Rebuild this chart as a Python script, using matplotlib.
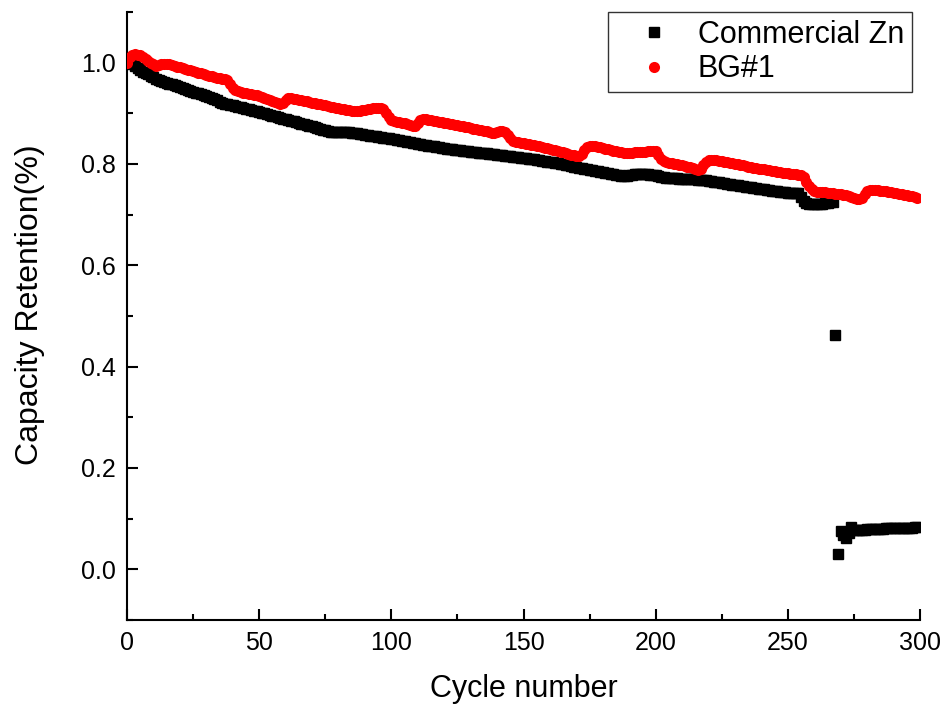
import matplotlib
matplotlib.use("Agg")
import matplotlib.pyplot as plt
from matplotlib.ticker import MultipleLocator

cycles = list(range(0, 300))

bg1 = [
    1.000, 1.012, 1.016, 1.017, 1.016, 1.015, 1.012, 1.008, 1.004, 1.000,
    0.997, 0.994, 0.995, 0.997, 0.998, 0.998, 0.997, 0.995, 0.994, 0.992,
    0.991, 0.989, 0.988, 0.986, 0.985, 0.983, 0.982, 0.980, 0.979, 0.977,
    0.976, 0.974, 0.973, 0.971, 0.970, 0.969, 0.967, 0.968, 0.966, 0.958,
    0.950, 0.946, 0.944, 0.943, 0.941, 0.940, 0.939, 0.938, 0.937, 0.936,
    0.934, 0.932, 0.930, 0.928, 0.926, 0.925, 0.923, 0.921, 0.919, 0.921,
    0.927, 0.930, 0.930, 0.929, 0.928, 0.927, 0.926, 0.925, 0.924, 0.923,
    0.921, 0.920, 0.919, 0.918, 0.917, 0.916, 0.914, 0.913, 0.912, 0.911,
    0.910, 0.909, 0.908, 0.907, 0.906, 0.905, 0.904, 0.904, 0.905, 0.906,
    0.907, 0.908, 0.909, 0.910, 0.910, 0.910, 0.910, 0.908, 0.900, 0.892,
    0.886, 0.884, 0.883, 0.882, 0.881, 0.880, 0.878, 0.877, 0.875, 0.874,
    0.880, 0.887, 0.888, 0.888, 0.887, 0.886, 0.885, 0.884, 0.883, 0.882,
    0.881, 0.880, 0.879, 0.878, 0.877, 0.876, 0.875, 0.874, 0.873, 0.872,
    0.871, 0.870, 0.869, 0.868, 0.867, 0.866, 0.865, 0.863, 0.861, 0.862,
    0.864, 0.866, 0.866, 0.864, 0.858, 0.851, 0.846, 0.844, 0.843, 0.842,
    0.841, 0.840, 0.839, 0.838, 0.838, 0.836, 0.835, 0.834, 0.832, 0.831,
    0.830, 0.828, 0.827, 0.825, 0.824, 0.823, 0.821, 0.820, 0.818, 0.817,
    0.816, 0.815, 0.820, 0.828, 0.834, 0.836, 0.836, 0.835, 0.834, 0.833,
    0.832, 0.830, 0.829, 0.828, 0.826, 0.825, 0.824, 0.823, 0.821, 0.822,
    0.822, 0.822, 0.823, 0.823, 0.823, 0.824, 0.824, 0.825, 0.826, 0.826,
    0.825, 0.818, 0.810, 0.805, 0.803, 0.802, 0.801, 0.800, 0.799, 0.798,
    0.797, 0.796, 0.795, 0.794, 0.792, 0.791, 0.789, 0.790, 0.797, 0.804,
    0.807, 0.808, 0.808, 0.807, 0.806, 0.805, 0.804, 0.803, 0.802, 0.801,
    0.800, 0.799, 0.798, 0.797, 0.796, 0.795, 0.794, 0.793, 0.792, 0.791,
    0.790, 0.790, 0.789, 0.788, 0.787, 0.786, 0.785, 0.784, 0.783, 0.782,
    0.782, 0.781, 0.780, 0.780, 0.779, 0.778, 0.774, 0.765, 0.756, 0.750,
    0.746, 0.745, 0.745, 0.744, 0.744, 0.743, 0.742, 0.742, 0.741, 0.741,
    0.740, 0.739, 0.738, 0.736, 0.735, 0.733, 0.731, 0.730, 0.733, 0.740,
    0.746, 0.748, 0.749, 0.749, 0.748, 0.747, 0.746, 0.746, 0.745, 0.744,
    0.743, 0.742, 0.741, 0.740, 0.739, 0.738, 0.737, 0.736, 0.735, 0.733,
]

commercial = [
    1.000, 1.001, 0.998, 0.993, 0.989, 0.985, 0.982, 0.979, 0.977, 0.974,
    0.971, 0.968, 0.966, 0.964, 0.962, 0.960, 0.958, 0.957, 0.955, 0.953,
    0.951, 0.950, 0.948, 0.946, 0.944, 0.943, 0.941, 0.940, 0.938, 0.936,
    0.934, 0.933, 0.931, 0.929, 0.926, 0.922, 0.920, 0.919, 0.918, 0.917,
    0.916, 0.915, 0.913, 0.912, 0.911, 0.909, 0.908, 0.907, 0.905, 0.904,
    0.902, 0.901, 0.900, 0.898, 0.897, 0.895, 0.894, 0.892, 0.891, 0.889,
    0.888, 0.886, 0.885, 0.884, 0.882, 0.881, 0.879, 0.878, 0.876, 0.875,
    0.874, 0.872, 0.871, 0.869, 0.868, 0.867, 0.865, 0.864, 0.864, 0.864,
    0.864, 0.864, 0.863, 0.863, 0.863, 0.862, 0.862, 0.861, 0.860, 0.859,
    0.858, 0.857, 0.856, 0.855, 0.855, 0.854, 0.853, 0.852, 0.851, 0.851,
    0.850, 0.849, 0.848, 0.847, 0.846, 0.845, 0.844, 0.843, 0.842, 0.841,
    0.840, 0.839, 0.838, 0.837, 0.836, 0.835, 0.835, 0.834, 0.833, 0.832,
    0.831, 0.830, 0.829, 0.829, 0.828, 0.827, 0.827, 0.826, 0.825, 0.825,
    0.824, 0.823, 0.823, 0.822, 0.822, 0.821, 0.821, 0.820, 0.819, 0.819,
    0.818, 0.818, 0.817, 0.816, 0.816, 0.815, 0.814, 0.814, 0.813, 0.812,
    0.812, 0.811, 0.810, 0.809, 0.809, 0.808, 0.807, 0.806, 0.805, 0.804,
    0.803, 0.803, 0.802, 0.801, 0.800, 0.799, 0.798, 0.797, 0.796, 0.795,
    0.794, 0.793, 0.792, 0.791, 0.790, 0.789, 0.788, 0.787, 0.786, 0.785,
    0.784, 0.783, 0.782, 0.781, 0.780, 0.779, 0.778, 0.777, 0.776, 0.777,
    0.778, 0.779, 0.780, 0.780, 0.780, 0.780, 0.780, 0.780, 0.779, 0.779,
    0.779, 0.777, 0.775, 0.774, 0.773, 0.772, 0.772, 0.772, 0.772, 0.771,
    0.771, 0.771, 0.771, 0.770, 0.770, 0.770, 0.769, 0.769, 0.769, 0.768,
    0.767, 0.766, 0.765, 0.765, 0.764, 0.763, 0.762, 0.761, 0.760, 0.759,
    0.759, 0.758, 0.757, 0.756, 0.755, 0.754, 0.754, 0.753, 0.752, 0.751,
    0.751, 0.750, 0.749, 0.748, 0.747, 0.747, 0.746, 0.745, 0.744, 0.744,
    0.743, 0.743, 0.742, 0.742, 0.742, 0.735, 0.727, 0.722, 0.720, 0.720,
    0.720, 0.720, 0.720, 0.721, 0.723, 0.723, 0.724, 0.724, 0.462, 0.030,
    0.075, 0.068, 0.062, 0.072, 0.083, 0.077, 0.077, 0.078, 0.078, 0.078,
    0.079, 0.079, 0.079, 0.080, 0.080, 0.080, 0.080, 0.081, 0.081, 0.081,
    0.081, 0.081, 0.082, 0.082, 0.082, 0.082, 0.082, 0.082, 0.083, 0.083,
]

series_labels = ["Commercial Zn", "BG#1"]
x_ticks = [0, 50, 100, 150, 200, 250, 300]
y_ticks = [0.0, 0.2, 0.4, 0.6, 0.8, 1.0]

narrow = ["Liberation Sans Narrow", "Liberation Sans", "DejaVu Sans"]
regular = ["Liberation Sans", "DejaVu Sans"]

fig = plt.figure(figsize=(9.41, 7.06), dpi=100)
ax = fig.add_axes([0.135, 0.122, 0.8427, 0.861])

ax.plot(cycles, commercial, linestyle="none", marker="s", markersize=7,
        color="black", label=series_labels[0], zorder=2)
ax.plot(cycles, bg1, linestyle="none", marker="o", markersize=8,
        color="red", markeredgewidth=0, label=series_labels[1], zorder=3)

ax.set_xlim(0, 300)
ax.set_ylim(-0.1, 1.1)
ax.set_xticks(x_ticks)
ax.set_yticks(y_ticks)
ax.set_xticklabels([str(v) for v in x_ticks], family=narrow, fontsize=18)
ax.set_yticklabels([f"{v:.1f}" for v in y_ticks], family=narrow, fontsize=18)
ax.xaxis.set_minor_locator(MultipleLocator(25))
ax.yaxis.set_minor_locator(MultipleLocator(0.1))
ax.tick_params(which="major", direction="in", length=8, width=1.5, pad=8)
ax.tick_params(which="minor", direction="in", length=4, width=1.5)

for s in ["top", "right"]:
    ax.spines[s].set_visible(False)
for s in ["left", "bottom"]:
    ax.spines[s].set_linewidth(1.5)

ax.set_xlabel("Cycle number", family=narrow, fontsize=22, labelpad=14)
ax.set_ylabel("Capacity Retention(%)", family=narrow, fontsize=23, labelpad=26)
ax.yaxis.label.set_y(0.518)

leg = ax.legend(loc="upper right", bbox_to_anchor=(0.969, 0.983),
                bbox_transform=fig.transFigure, borderaxespad=0,
                prop={"family": regular, "size": 22}, frameon=True,
                fancybox=False, edgecolor="black", handletextpad=0.2,
                markerscale=1.0, borderpad=0.25, labelspacing=0.15,
                handlelength=2.5)
leg.get_frame().set_linewidth(1.0)

fig.savefig("out.png", dpi=100)
